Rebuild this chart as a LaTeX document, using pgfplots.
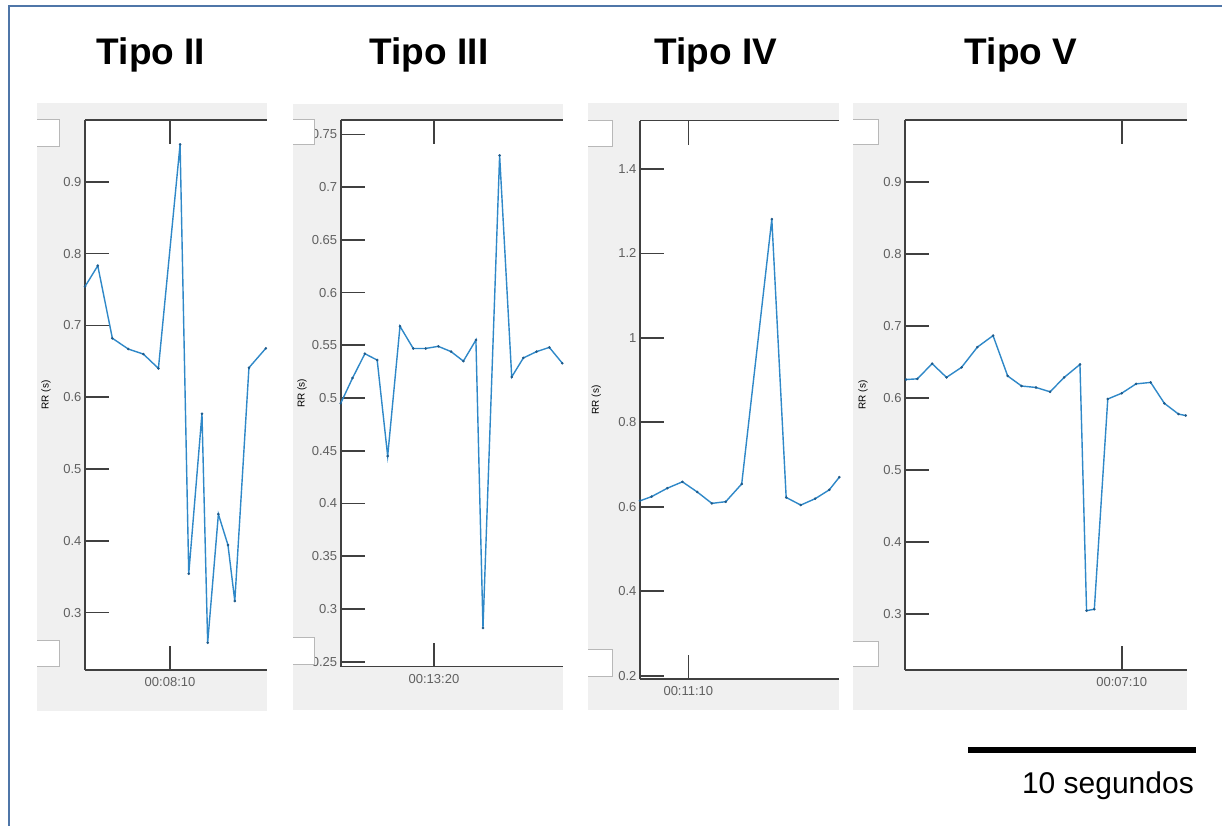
\documentclass[border=0pt]{standalone}
\usepackage{fontspec}
\setmainfont{Liberation Sans}
\usepackage{pgfplots}
\pgfplotsset{compat=1.18}
\definecolor{mblue}{HTML}{2F88C8}
\definecolor{mdark}{HTML}{1F5A8A}
\definecolor{panelgray}{HTML}{F0F0F0}
\definecolor{axgray}{HTML}{404040}
\definecolor{lblgray}{HTML}{606060}
\definecolor{frameblue}{HTML}{4F76A8}
\definecolor{boxgray}{HTML}{B8B8B8}
\pgfplotsset{
 rrline/.style={mblue, line width=1.4pt, mark=*, mark size=1.1pt, mark options={mdark, fill=mdark, line width=0.4pt}},
 rrpanel/.style={
  scale only axis,
  anchor=south west,
  axis x line*=box, axis y line*=left,
  axis line style={axgray, line width=1.6pt},
  every tick/.style={axgray, line width=1.6pt},
  major tick length=24pt,
  tick align=inside,
  axis background/.style={fill=white},
  ticklabel style={font=\fontsize{13}{14}\selectfont, text=lblgray},
  xticklabel style={yshift=-4pt},
  /pgf/number format/assume math mode=true,
  xtick={0},
  ylabel={RR (s)},
  ylabel style={font=\fontsize{10}{11}\selectfont, text=black},
  clip=true,
 }
}
\begin{document}
\begin{tikzpicture}[x=1pt,y=1pt]
\path[use as bounding box] (0,0) rectangle (1222,826);
\draw[frameblue, line width=2pt] (9,0) -- (9,820) -- (1222,820);
\fill[panelgray] (37,115) rectangle (266.5,723);
\fill[panelgray] (293,116) rectangle (563,722);
\fill[panelgray] (588,116) rectangle (839.3,723);
\fill[panelgray] (853,116) rectangle (1186.7,723);
\foreach \xx/\tt in {151/Tipo II, 429/Tipo III, 716/Tipo IV, 1021/Tipo V}
  \node[anchor=base, inner sep=0, font=\fontsize{37}{40}\selectfont\bfseries] at (\xx,761) {\tt};

% Panel Tipo II
\begin{axis}[rrpanel, at={(85pt,156pt)}, width=181.5pt, height=550pt,
  xmin=-3.73, xmax=4.23, ymin=0.22, ymax=0.986,
  ytick={0.3,0.4,0.5,0.6,0.7,0.8,0.9},
  xticklabels={00:08:10},
  ylabel style={at={(axis description cs:-0.215,0.5)}, anchor=center}]
\addplot[rrline] coordinates {(-3.73,0.754) (-3.17,0.783) (-2.53,0.682) (-1.83,0.667) (-1.17,0.660) (-0.51,0.640) (0.44,0.952) (0.82,0.354) (1.40,0.577) (1.65,0.258) (2.12,0.437) (2.54,0.394) (2.84,0.316) (3.46,0.641) (4.20,0.668)};
\end{axis}

% Panel Tipo III
\begin{axis}[rrpanel, at={(340.7pt,159.3pt)}, width=222.3pt, height=546.7pt,
  xmin=-4.09, xmax=5.66, ymin=0.2453, ymax=0.7636,
  ytick={0.25,0.3,0.35,0.4,0.45,0.5,0.55,0.6,0.65,0.7,0.75},
  xticklabels={00:13:20},
  ylabel style={at={(axis description cs:-0.174,0.5)}, anchor=center}]
\addplot[rrline] coordinates {(-4.09,0.495) (-3.57,0.519) (-3.03,0.542) (-2.49,0.536) (-2.03,0.445) (-1.49,0.568) (-0.91,0.547) (-0.36,0.547) (0.19,0.549) (0.75,0.544) (1.29,0.535) (1.84,0.555) (2.15,0.282) (2.88,0.730) (3.41,0.520) (3.92,0.538) (4.50,0.544) (5.06,0.548) (5.63,0.533)};
\end{axis}

% Panel Tipo IV
\begin{axis}[rrpanel, at={(640pt,146.7pt)}, width=199.3pt, height=558.6pt,
  xmin=-2.12, xmax=6.62, ymin=0.1915, ymax=1.514,
  ytick={0.2,0.4,0.6,0.8,1,1.2,1.4},
  xticklabels={00:11:10},
  ylabel style={at={(axis description cs:-0.22,0.5)}, anchor=center}]
\addplot[rrline] coordinates {(-2.12,0.614) (-1.61,0.624) (-0.92,0.644) (-0.26,0.659) (0.39,0.635) (1.03,0.608) (1.64,0.612) (2.34,0.654) (3.66,1.281) (4.29,0.622) (4.93,0.604) (5.56,0.619) (6.18,0.640) (6.62,0.670)};
\end{axis}

% Panel Tipo V
\begin{axis}[rrpanel, at={(905pt,156pt)}, width=281.7pt, height=550pt,
  xmin=-9.50, xmax=2.85, ymin=0.2226, ymax=0.9865,
  ytick={0.3,0.4,0.5,0.6,0.7,0.8,0.9},
  xticklabels={00:07:10},
  ylabel style={at={(axis description cs:-0.149,0.5)}, anchor=center}]
\addplot[rrline] coordinates {(-9.46,0.626) (-8.96,0.627) (-8.31,0.648) (-7.68,0.629) (-7.02,0.643) (-6.33,0.671) (-5.64,0.687) (-5.00,0.631) (-4.39,0.617) (-3.76,0.615) (-3.14,0.609) (-2.52,0.629) (-1.83,0.647) (-1.54,0.305) (-1.20,0.307) (-0.61,0.599) (0.00,0.607) (0.63,0.620) (1.27,0.622) (1.87,0.593) (2.49,0.578) (2.81,0.576)};
\end{axis}

% small white boxes
\foreach \xa/\xb/\ya/\yb in {37/59/679/706, 37/59/159/185, 293/314/681/706, 293/314/161/188, 588/612/679/705, 588/612/149/176, 853/878/681/706, 853/878/159/184}{
  \fill[white] (\xa,\ya) rectangle (\xb,\yb);
  \draw[boxgray, line width=1pt] (\xa,\yb) -- (\xb,\yb) -- (\xb,\ya) -- (\xa,\ya);
}

% scale bar
\draw[black, line width=6pt] (968,76) -- (1196,76);
\node[anchor=base east, inner sep=0, font=\fontsize{30}{32}\selectfont] at (1194,32) {10 segundos};
\end{tikzpicture}
\end{document}
